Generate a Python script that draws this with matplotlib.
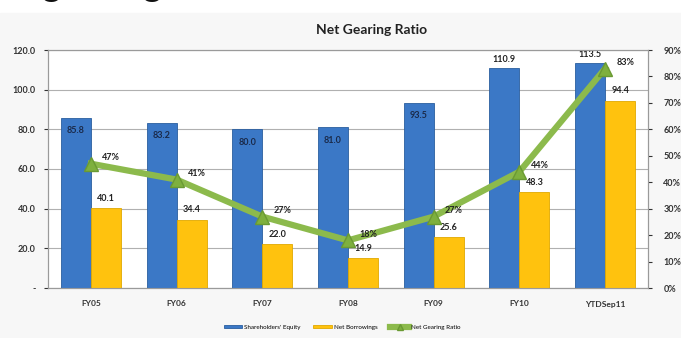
import matplotlib
matplotlib.use("Agg")
import matplotlib.pyplot as plt
import numpy as np
from matplotlib.ticker import FuncFormatter, MultipleLocator

categories = ["FY05", "FY06", "FY07", "FY08", "FY09", "FY10", "YTDSep11"]
equity = [85.8, 83.2, 80.0, 81.0, 93.5, 110.9, 113.5]
borrowings = [40.1, 34.4, 22.0, 14.9, 25.6, 48.3, 94.4]
gearing = [47, 41, 27, 18, 27, 44, 83]

plt.rcParams['font.family'] = ['Lato', 'DejaVu Sans']

fig = plt.figure(figsize=(6.81, 3.38), dpi=100)
fig.patch.set_facecolor('white')
# light grey slide band behind the chart
fig.patches.append(plt.Rectangle((0, 0), 1, 1 - 13 / 338, transform=fig.transFigure,
                                 color='#f7f7f7', zorder=-10))
# bottom of the cut-off slide heading
fig.text(0.062, 1.0 + 5 / 338, "gearing", fontsize=27, color='#111111',
         va='baseline', ha='left')

ax = fig.add_axes([48 / 681, 1 - 288 / 338, 600 / 681, 238 / 338])
ax.set_facecolor('white')
x = np.arange(len(categories))
w = 0.35

ax.bar(x - w / 2, equity, w, color='#3b78c6', edgecolor='#2a5e9f', linewidth=0.6, zorder=3,
       label="Shareholders' Equity")
ax.bar(x + w / 2, borrowings, w, color='#ffc20e', edgecolor='#e0a800', linewidth=0.6, zorder=3,
       label='Net Borrowings')

ax.set_xlim(-0.5, len(categories) - 0.5)
ax.set_ylim(0, 120)
ax.yaxis.set_major_locator(MultipleLocator(20))
ax.yaxis.set_major_formatter(FuncFormatter(lambda v, p: '-' if v == 0 else '%.1f' % v))
ax.grid(axis='y', color='#b0b0b0', linewidth=0.8, zorder=0)
ax.set_xticks(x)
ax.set_xticklabels(categories)
ax.tick_params(axis='x', length=0, pad=9, labelsize=6, colors='#333333')
ax.tick_params(axis='y', length=3, labelsize=6.5, colors='#333333', pad=6)
for lbl in ax.get_yticklabels():
    lbl.set_fontweight('bold')
for lbl in ax.get_xticklabels():
    lbl.set_fontweight('bold')
for s in ['left', 'bottom', 'top', 'right']:
    ax.spines[s].set_color('#9a9a9a')

for i, v in enumerate(equity):
    if v > 100:
        ax.annotate('%.1f' % v, (x[i] - w / 2, v), xytext=(0, 3), textcoords='offset points',
                    ha='center', va='bottom', fontsize=6.5, fontweight='bold', color='#222222', zorder=6)
    else:
        ax.annotate('%.1f' % v, (x[i] - w / 2, v), xytext=(0, -6), textcoords='offset points',
                    ha='center', va='top', fontsize=6.5, fontweight='bold', color='#1a2a4a', zorder=6)
for i, v in enumerate(borrowings):
    ax.annotate('%.1f' % v, (x[i] + w / 2, v), xytext=(0, 4), textcoords='offset points',
                ha='center', va='bottom', fontsize=6.5, fontweight='bold', color='#222222', zorder=6)

ax2 = ax.twinx()
ax2.set_ylim(0, 0.9)
ax2.yaxis.set_major_locator(MultipleLocator(0.1))
ax2.yaxis.set_major_formatter(FuncFormatter(lambda v, p: '%d%%' % round(v * 100)))
ax2.tick_params(axis='y', length=3, labelsize=6.5, colors='#333333', pad=8)
for lbl in ax2.get_yticklabels():
    lbl.set_fontweight('bold')
for s in ['left', 'bottom', 'top', 'right']:
    ax2.spines[s].set_color('#9a9a9a')
ratio = [g / 100 for g in gearing]
ax2.plot(x, ratio, color='#8cba4c', linewidth=4.5, marker='^', markersize=10,
         markerfacecolor='#7eb03e', markeredgecolor='#6a9a33', zorder=5, label='Net Gearing Ratio')
for i, g in enumerate(gearing):
    ax2.annotate('%d%%' % g, (x[i], ratio[i]), xytext=(8, 1), textcoords='offset points',
                 ha='left', va='bottom', fontsize=6.5, fontweight='bold', color='#222222', zorder=6)

fig.text(372 / 681, 1 - 30 / 338, 'Net Gearing Ratio', ha='center', va='center',
         fontsize=10, fontweight='bold', color='#222222')

h1, l1 = ax.get_legend_handles_labels()
h2, l2 = ax2.get_legend_handles_labels()
fig.legend(h1 + h2, l1 + l2, loc='center', bbox_to_anchor=(342 / 681, 1 - 327 / 338), ncol=3,
           frameon=False, fontsize=4.5, handlelength=3, handleheight=0.4, columnspacing=2,
           handletextpad=0.3, markerscale=0.4)

fig.savefig('out.png', dpi=100, facecolor=fig.get_facecolor())
